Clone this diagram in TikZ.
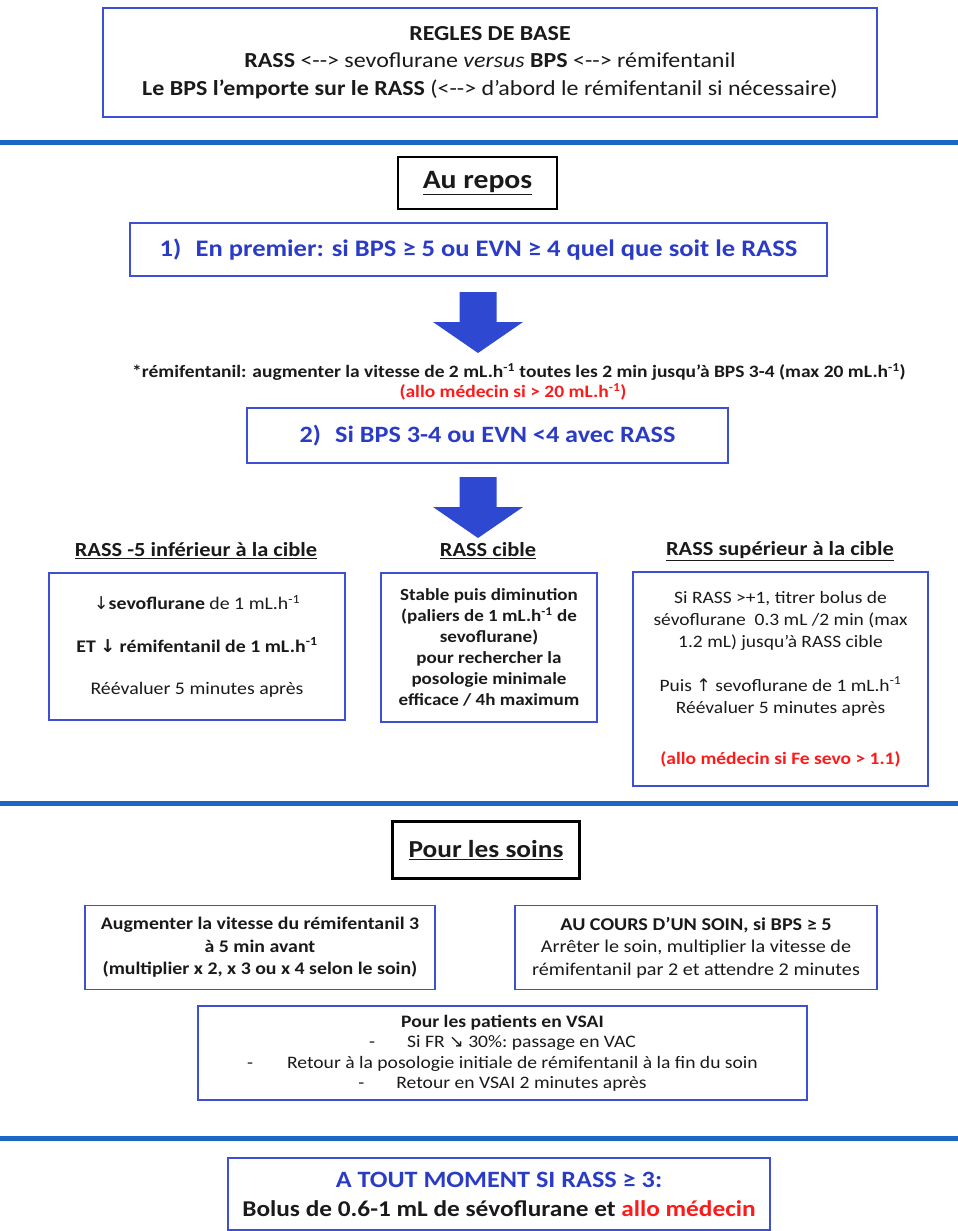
\documentclass[tikz,border=0pt]{standalone}
\usepackage{fontspec}
\setmainfont{Carlito}[FakeStretch=1.12]
\newfontfamily\symf{DejaVu Sans}
\usetikzlibrary{calc}
\definecolor{boxblue}{HTML}{3D4FD4}
\definecolor{txtblue}{HTML}{2A3CC6}
\definecolor{arrblue}{HTML}{2E48D2}
\definecolor{sepblue}{HTML}{1A68C4}
\definecolor{alarm}{HTML}{FF1A1A}
\definecolor{ink}{HTML}{1A1A1A}
\newcommand{\mLh}{mL.h\textsuperscript{-1}}
\newcommand{\fs}[2]{\fontsize{#1}{#2}\selectfont}
\newcommand{\dn}{{\symf\char"2193}}
\newcommand{\up}{{\symf\char"2191}}
\newcommand{\se}{{\symf\char"2198}}
\begin{document}
\begin{tikzpicture}[x=1pt,y=-1pt,
  bluebox/.style={draw=boxblue, line width=1.6pt, fill=white, inner sep=0pt, align=center, text=ink},
  headbox/.style={draw=black, line width=2.6pt, fill=white, inner sep=0pt, align=center, text=ink},
  sepline/.style={draw=sepblue, line width=5pt},
  blockarrow/.style={fill=arrblue},
  colhead/.style={inner sep=0pt, align=center, text=ink, font=\fs{20}{24}\bfseries}
]
\useasboundingbox[fill=white] (0,0) rectangle (958,1231);

% top rules box
\node[bluebox, minimum width=774pt, minimum height=109pt, font=\fs{21.4}{27.5}] (top) at (490,62.5)
 {\textbf{REGLES DE BASE}\\
  \textbf{RASS} <-{}-> sevoflurane \textit{versus} \textbf{BPS} <-{}-> rémifentanil\\
  \textbf{Le BPS l’emporte sur le RASS} (<-{}-> d’abord le rémifentanil si nécessaire)};

\coordinate (s1l) at (0,142); \coordinate (s1r) at (958,142);
\draw[sepline] (s1l) -- (s1r);

% Au repos
\node[headbox, minimum width=159pt, minimum height=52pt, font=\fs{26.5}{30}\bfseries] (aurepos) at (477.5,183) {\underline{Au repos}};

\node[bluebox, minimum width=697pt, minimum height=53pt, font=\fs{23.7}{27}\bfseries, text=txtblue] (b1) at (478.5,249.5)
 {1)\hspace{0.6em}En premier: si BPS ≥ 5 ou EVN ≥ 4 quel que soit le RASS};

\coordinate (a1top) at (478,292);
\fill[blockarrow] ($(a1top)+(-18.5,0)$) -- ($(a1top)+(18.5,0)$) -- ($(a1top)+(18.5,30)$) -- ($(a1top)+(45,30)$)
  -- ($(a1top)+(0,61)$) -- ($(a1top)+(-45,30)$) -- ($(a1top)+(-18.5,30)$) -- cycle;

\node[inner sep=0pt, align=center, text=ink, font=\fs{17.4}{20}\bfseries] (remi) at (519,372)
 {*rémifentanil: augmenter la vitesse de 2 \mLh{} toutes les 2 min jusqu’à BPS 3-4 (max 20 \mLh)};
\node[inner sep=0pt, align=center, text=alarm, font=\fs{17.4}{20}\bfseries] (remired) at (513,392)
 {(allo médecin si > 20 \mLh)};

\node[bluebox, minimum width=481pt, minimum height=55pt, font=\fs{23.4}{27}\bfseries, text=txtblue] (b2) at (487.5,435.5)
 {2)\hspace{0.6em}Si BPS 3-4 ou EVN <4 avec RASS};

\coordinate (a2top) at (478,477);
\fill[blockarrow] ($(a2top)+(-18.5,0)$) -- ($(a2top)+(18.5,0)$) -- ($(a2top)+(18.5,30)$) -- ($(a2top)+(45,30)$)
  -- ($(a2top)+(0,61)$) -- ($(a2top)+(-45,30)$) -- ($(a2top)+(-18.5,30)$) -- cycle;

% column headers
\node[colhead] (hL) at (196,551) {\underline{RASS -5 inférieur à la cible}};
\node[colhead] (hM) at (488,551) {\underline{RASS cible}};
\node[colhead] (hR) at (780,551) {\underline{RASS supérieur à la cible}};

% column boxes
\node[bluebox, minimum width=296pt, minimum height=147pt, font=\fs{17.7}{20}] (bL) at (197,646.5)
 {\dn\textbf{sevoflurane} de 1 \mLh\\[22.5pt]
  \textbf{ET \dn{} rémifentanil de 1 \mLh}\\[22.5pt]
  Réévaluer 5 minutes après};

\node[bluebox, minimum width=216pt, minimum height=149pt, font=\fs{17}{21}\bfseries] (bM) at (489,647.5)
 {Stable puis diminution\\
  (paliers de 1 \mLh{} de\\
  sevoflurane)\\
  pour rechercher la\\
  posologie minimale\\
  efficace / 4h maximum};

\node[bluebox, minimum width=295pt, minimum height=214pt, font=\fs{17.4}{22}] (bR) at (780.5,679)
 {Si RASS >+1, titrer bolus de\\
  sévoflurane\ \ 0.3 mL /2 min (max\\
  1.2 mL) jusqu’à RASS cible\\[22pt]
  Puis \up{} sevoflurane de 1 \mLh\\
  Réévaluer 5 minutes après\\[29pt]
  \textcolor{alarm}{\textbf{(allo médecin si Fe sevo > 1.1)}}};

\coordinate (s2l) at (0,803); \coordinate (s2r) at (958,803);
\draw[sepline] (s2l) -- (s2r);

% Pour les soins
\node[headbox, minimum width=187pt, minimum height=57pt, font=\fs{24.4}{28}\bfseries] (soins) at (486,850) {\underline{Pour les soins}};

\node[bluebox, minimum width=350pt, minimum height=84pt, font=\fs{17.7}{22.5}\bfseries] (sL) at (260,947.5)
 {Augmenter la vitesse du rémifentanil 3\\
  à 5 min avant\\
  (multiplier x 2, x 3 ou x 4 selon le soin)};

\node[bluebox, minimum width=362pt, minimum height=84pt, font=\fs{18}{22.5}] (sR) at (696,947.5)
 {\textbf{AU COURS D’UN SOIN, si BPS ≥ 5}\\
  Arrêter le soin, multiplier la vitesse de\\
  rémifentanil par 2 et attendre 2 minutes};

\node[bluebox, minimum width=609pt, minimum height=94pt, font=\fs{17.5}{20.5}] (vsai) at (502.5,1053)
 {\textbf{Pour les patients en VSAI}\\
  -\hspace{32pt}Si FR \se{} 30\%:\ passage en VAC\\
  -\hspace{34pt}Retour à la posologie initiale de rémifentanil à la fin du soin\\
  -\hspace{32pt}Retour en VSAI 2 minutes après};

\coordinate (s3l) at (0,1138); \coordinate (s3r) at (958,1138);
\draw[sepline] (s3l) -- (s3r);

\node[bluebox, minimum width=542pt, minimum height=72pt, font=\fs{22.6}{29}\bfseries] (bottom) at (499,1194)
 {\textcolor{txtblue}{\fs{23.4}{29}A TOUT MOMENT SI RASS ≥ 3:}\\
  Bolus de 0.6-1 mL de sévoflurane et \textcolor{alarm}{allo médecin}};
\end{tikzpicture}
\end{document}
